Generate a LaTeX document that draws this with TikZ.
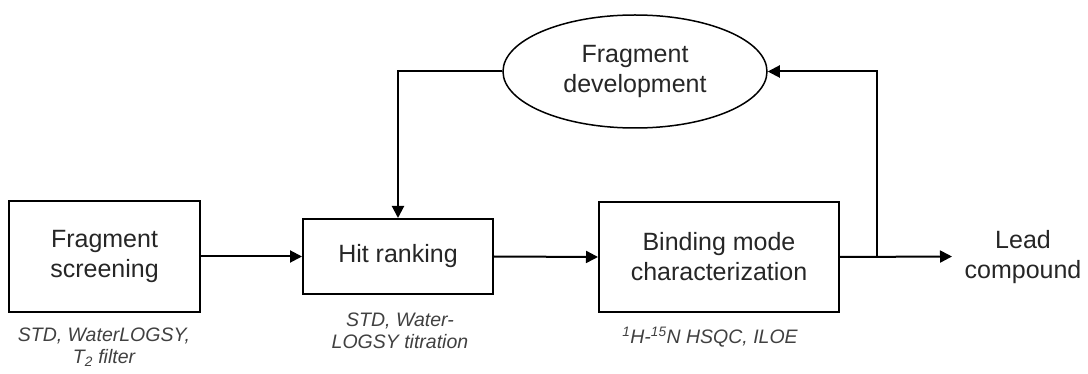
\documentclass[tikz,border=0pt]{standalone}
\usepackage{fontspec}
\setmainfont{Liberation Sans}
\usetikzlibrary{arrows.meta,shapes.geometric}
\begin{document}
\begin{tikzpicture}[x=1pt,y=1pt,
  stagebox/.style={draw, line width=2pt, inner sep=0pt, align=center,
    font=\fontsize{25}{30}\selectfont, text=black!85},
  loopnode/.style={draw, ellipse, line width=1.5pt, inner sep=0pt,
    minimum width=264pt, minimum height=113pt, align=center,
    font=\fontsize{25}{30}\selectfont, text=black!85},
  method/.style={align=center, inner sep=0pt,
    font=\itshape\fontsize{19.5}{22}\selectfont, text=black!75},
  flow/.style={line width=2pt, -{Triangle[length=12pt,width=12pt]}}]
\useasboundingbox (0,0) rectangle (1088,-374);

% process stages
\node[stagebox, minimum width=191pt, minimum height=111pt] (screen) at (104.5,-256.5) {Fragment\\screening};
\node[stagebox, minimum width=190pt, minimum height=75pt] (rank) at (398,-256.5) {Hit ranking};
\node[stagebox, minimum width=240pt, minimum height=110pt] (bind) at (719,-257) {Binding mode\\characterization};
\node[loopnode] (dev) at (635,-71.5) {Fragment\\development};
\node[align=center, inner sep=0pt, font=\fontsize{25}{30}\selectfont, text=black!85] (lead) at (1023,-257) {Lead\\compound};

% methods used at each stage
\node[method] (m1) at (104,-347) {STD, WaterLOGSY,\\T\textsubscript{2} filter};
\node[method] (m2) at (400,-331) {STD, Water-\\LOGSY titration};
\node[method] (m3) at (710,-337) {\textsuperscript{1}H-\textsuperscript{15}N HSQC, ILOE};

% connectors
\coordinate (leadin) at (952,-256.5);
\coordinate (branch) at (877,-256.5);
\draw[flow] (screen.east) -- (rank.west);
\draw[flow] (rank.east) -- (bind.west);
\draw[flow] (bind.east) -- (leadin);
\draw[flow] (branch) |- (dev.east);
\draw[flow] (dev.west) -| (rank.north);
\end{tikzpicture}
\end{document}
